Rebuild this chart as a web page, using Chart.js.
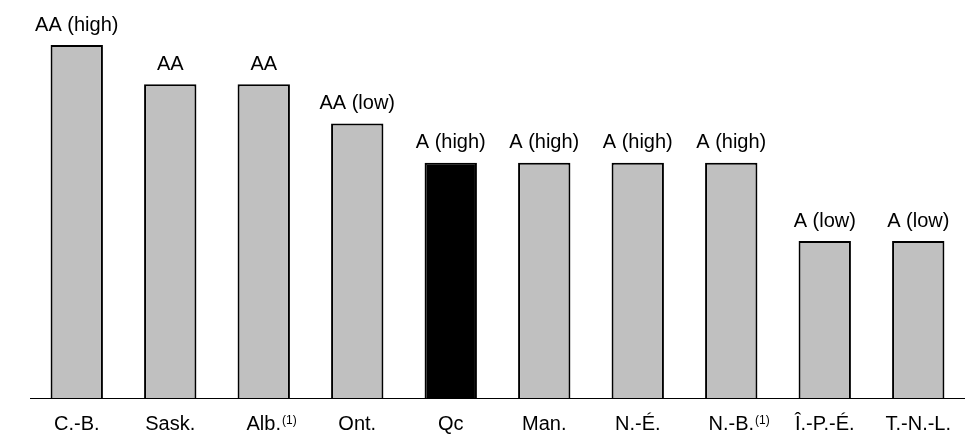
<!DOCTYPE html>
<html>
<head>
<meta charset="utf-8">
<script src="https://cdn.jsdelivr.net/npm/chart.js@4"></script>
<style>
  html, body { margin: 0; padding: 0; background: #ffffff; }
  #wrap { width: 965px; height: 439px; position: relative; }
</style>
</head>
<body>
<div id="wrap"><canvas id="c" width="965" height="439"></canvas></div>
<script>
// Provinces (tick labels) and superscript notes
const categories = ["C.-B.", "Sask.", "Alb.", "Ont.", "Qc", "Man.", "N.-É.", "N.-B.", "Î.-P.-É.", "T.-N.-L."];
const notes = ["", "", "(1)", "", "", "", "", "(1)", "", ""];
// Credit rating labels shown above bars
const ratings = ["AA (high)", "AA", "AA", "AA (low)", "A (high)", "A (high)", "A (high)", "A (high)", "A (low)", "A (low)"];
// Rating rank (bar heights)
const ranks = [9, 8, 8, 7, 6, 6, 6, 6, 4, 4];
const highlighted = "Qc";

const FONT = "Arial, 'Liberation Sans', sans-serif";

const labelsPlugin = {
  id: 'labelsPlugin',
  afterDatasetsDraw(chart) {
    const ctx = chart.ctx;
    const meta = chart.getDatasetMeta(0);
    const xs = chart.scales.x;
    const base = chart.chartArea.bottom;
    ctx.save();
    ctx.fillStyle = '#000';
    meta.data.forEach((bar, i) => {
      // rating label
      ctx.font = '20px ' + FONT;
      ctx.textAlign = 'center';
      ctx.textBaseline = 'alphabetic';
      ctx.fillText(ratings[i], bar.x, bar.y - 14.5);
      // category tick label
      const cx = xs.getPixelForValue(i);
      ctx.fillText(categories[i], cx, base + 32);
      if (notes[i]) {
        const w = ctx.measureText(categories[i]).width;
        ctx.font = '12px ' + FONT;
        ctx.textAlign = 'left';
        ctx.fillText(notes[i], cx + w / 2 + 1, base + 26);
      }
    });
    ctx.restore();
  }
};

new Chart(document.getElementById('c'), {
  type: 'bar',
  data: {
    labels: categories,
    datasets: [{
      data: ranks,
      backgroundColor: categories.map(c => c === highlighted ? '#000000' : '#c0c0c0'),
      borderColor: '#000000',
      borderWidth: 2,
      barPercentage: 0.56,
      categoryPercentage: 1.0
    }]
  },
  options: {
    responsive: false,
    animation: false,
    devicePixelRatio: 1,
    layout: { padding: { top: 45, bottom: 41, left: 30, right: 0 } },
    plugins: { legend: { display: false }, tooltip: { enabled: false } },
    scales: {
      x: {
        grid: { display: false, drawTicks: false },
        border: { display: true, color: '#000000', width: 1 },
        ticks: { display: false }
      },
      y: {
        display: false,
        min: 0,
        max: 9
      }
    }
  },
  plugins: [labelsPlugin]
});
</script>
</body>
</html>
